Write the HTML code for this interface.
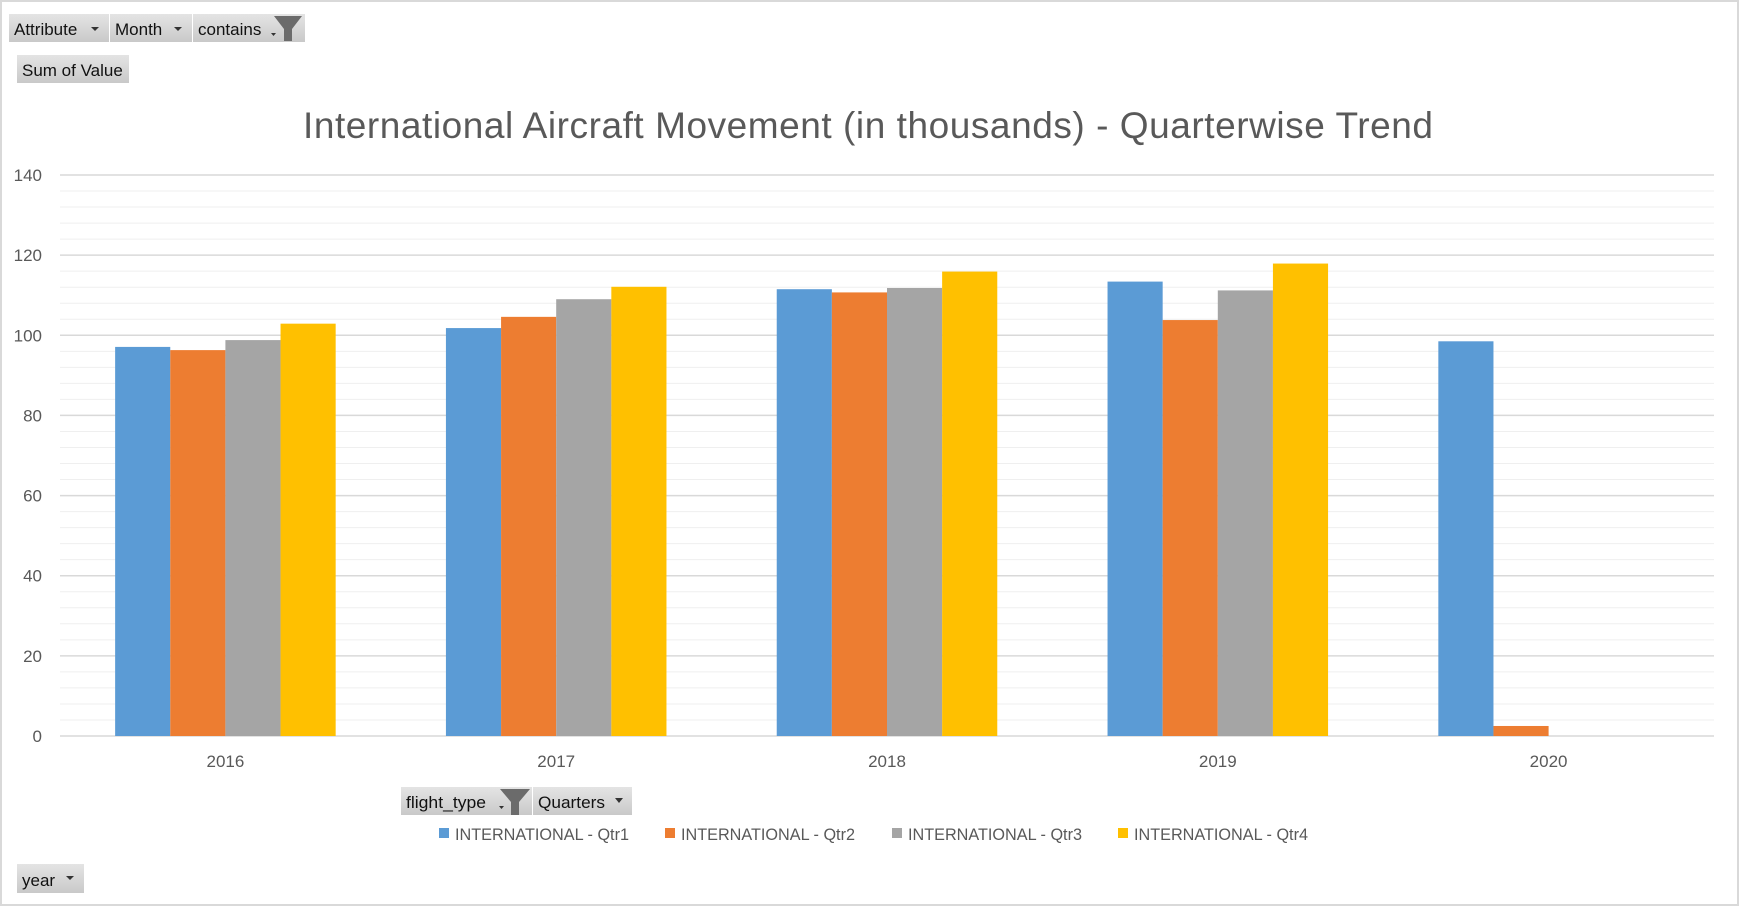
<!DOCTYPE html>
<html><head><meta charset="utf-8"><style>
html,body{margin:0;padding:0;background:#fff;}
svg{display:block;font-family:"Liberation Sans",sans-serif;}
</style></head><body>
<svg id="c" width="1739" height="906" viewBox="0 0 1739 906">
<defs><linearGradient id="btn" x1="0" y1="0" x2="0" y2="1"><stop offset="0" stop-color="#e4e4e4"/><stop offset="1" stop-color="#c9c9c9"/></linearGradient></defs>
<rect x="1" y="1" width="1737" height="904" fill="#fff" stroke="#d9d9d9" stroke-width="2"/>
<g><rect x="9" y="14" width="100" height="28" fill="url(#btn)"/><text x="14" y="35" font-size="17" fill="#111">Attribute</text><path d="M91 27h8l-4 4z" fill="#333"/></g>
<g><rect x="110" y="14" width="82" height="28" fill="url(#btn)"/><text x="115" y="35" font-size="17" fill="#111">Month</text><path d="M174 27h8l-4 4z" fill="#333"/></g>
<g><rect x="193" y="14" width="112" height="28" fill="url(#btn)"/><text x="198" y="35" font-size="17" fill="#111">contains</text><path d="M271 33h5l-2.5 3z" fill="#333"/><path d="M274 16h28l-10 13v12h-8v-12z" fill="#6b6b6b"/></g>
<g><rect x="17" y="55" width="112" height="28" fill="url(#btn)"/><text x="22" y="76" font-size="17" fill="#111">Sum of Value</text></g>
<text x="868" y="138" text-anchor="middle" font-size="37" fill="#595959" textLength="1130">International Aircraft Movement (in thousands) - Quarterwise Trend</text>
<g id="grid"></g><g id="bars"></g><g id="axes"></g>
<g><rect x="401" y="787" width="131" height="28" fill="url(#btn)"/><text x="406" y="808" font-size="17" fill="#111" textLength="80" lengthAdjust="spacingAndGlyphs">flight_type</text><path d="M499 806h5l-2.5 3z" fill="#333"/><path d="M500 789h30l-11 13v13h-8v-13z" fill="#6b6b6b"/></g>
<g><rect x="533" y="787" width="99" height="28" fill="url(#btn)"/><text x="538" y="808" font-size="17" fill="#111" textLength="67" lengthAdjust="spacingAndGlyphs">Quarters</text><path d="M615 798h8l-4 5z" fill="#333"/></g>
<g id="legend"></g>
<g><rect x="17" y="864" width="67" height="29" fill="url(#btn)"/><text x="22" y="886" font-size="17" fill="#111">year</text><path d="M66 876h8l-4 4z" fill="#333"/></g>
</svg>
<script>
const categories=["2016","2017","2018","2019","2020"];
const seriesNames=["INTERNATIONAL - Qtr1","INTERNATIONAL - Qtr2","INTERNATIONAL - Qtr3","INTERNATIONAL - Qtr4"];
const qtr1=[97.1,101.8,111.5,113.4,98.5];
const qtr2=[96.3,104.6,110.7,103.8,2.5];
const qtr3=[98.8,109.0,111.8,111.2,null];
const qtr4=[102.9,112.1,115.9,117.9,null];
const yTicks=[0,20,40,60,80,100,120,140];
const colors=["#5b9bd5","#ed7d31","#a5a5a5","#ffc000"];
const series=[qtr1,qtr2,qtr3,qtr4];
const NS="http://www.w3.org/2000/svg";
const L=60,R=1714,T=175,B=736,yMax=140;
const y=v=>B-(v/yMax)*(B-T);
const bandW=(R-L)/categories.length;
const barW=bandW/6;
const x=(ci,si)=>L+ci*bandW+barW+si*barW;
function mk(tag,attrs,parent){const e=document.createElementNS(NS,tag);for(const k in attrs)e.setAttribute(k,attrs[k]);parent.appendChild(e);return e;}
const grid=document.getElementById('grid'),bars=document.getElementById('bars'),axes=document.getElementById('axes'),legend=document.getElementById('legend');
for(let v=0;v<=yMax;v+=4){const major=v%20===0;const l=mk('line',{x1:L,x2:R,y1:y(v),y2:y(v),stroke:major?'#d9d9d9':'#efefef','stroke-width':major?1.5:1},grid);

}
yTicks.forEach(t=>{const e=mk('text',{x:42,y:y(t)+6,'text-anchor':'end','font-size':17,fill:'#595959'},axes);e.textContent=t;

});
categories.forEach((c,ci)=>{const e=mk('text',{x:L+ci*bandW+bandW/2,y:767,'text-anchor':'middle','font-size':17,fill:'#595959'},axes);e.textContent=c;


series.forEach((s,si)=>{const v=s[ci];if(v==null)return;const r=mk('rect',{x:x(ci,si),y:y(v),width:barW,height:B-y(v),fill:colors[si]},bars);

});});
const lx=[439,665,892,1118];
seriesNames.forEach((n,i)=>{const g=mk('g',{},legend);


mk('rect',{x:lx[i],y:828,width:10,height:10,fill:colors[i]},g);
const t=mk('text',{x:lx[i]+16,y:840,'font-size':17,fill:'#595959',textLength:174,lengthAdjust:'spacingAndGlyphs'},g);t.textContent=n;});
</script>
</body></html>
